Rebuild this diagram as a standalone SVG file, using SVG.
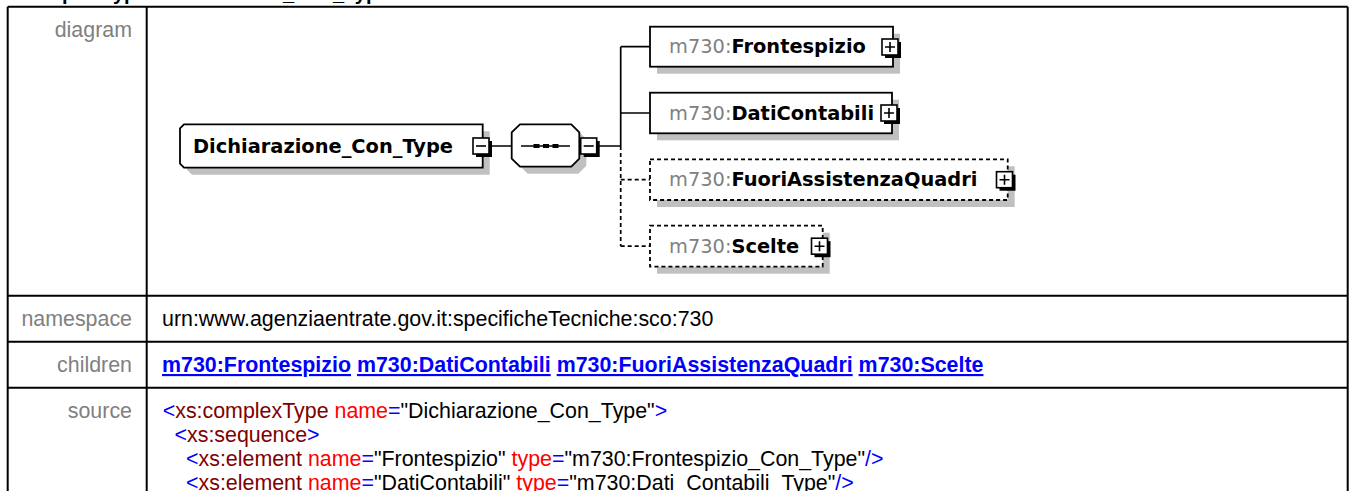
<svg xmlns="http://www.w3.org/2000/svg" xmlns:xlink="http://www.w3.org/1999/xlink" width="1349" height="491" viewBox="0 0 1349 491">
<style>
.tbl{fill:none;stroke:#000;stroke-width:2}
.lbl{font-family:"Liberation Sans",Arial,sans-serif;font-size:21.4px;fill:#808080;text-anchor:end}
.val{font-family:"Liberation Sans",Arial,sans-serif;font-size:21.4px;fill:#000}
.hdr{font-family:"Liberation Sans",Arial,sans-serif;font-size:20px;font-weight:bold;fill:#000}
.lnk{fill:#0000ff;font-weight:bold;text-decoration:underline}
.b{fill:#0000ff}.m{fill:#800000}.r{fill:#ff0000}.k{fill:#000}
.node{fill:#fff;stroke:#000;stroke-width:1.8}
.opt{stroke-dasharray:4 3}
.shadow{fill:#c0c0c0}
.ntxt{font-family:"DejaVu Sans",Verdana,sans-serif;font-size:19.4px}
.ns{fill:#808080}
.nm{font-weight:bold;fill:#000}
.conn{stroke:#000;stroke-width:1.7;fill:none}
.btn{fill:#fff;stroke:#000;stroke-width:1.6}
.sign{stroke:#000;stroke-width:1.6;fill:none}
</style>
<defs>
<g id="plusBtn"><rect x="-5" y="-5" width="16" height="16" fill="#000"/><rect x="-8" y="-8" width="16" height="16" class="btn"/><path class="sign" d="M-5 0H5M0 -5V5"/></g>
<g id="minusBtn"><rect x="-5" y="-5" width="16" height="16" fill="#000"/><rect x="-8" y="-8" width="16" height="16" class="btn"/><path class="sign" d="M-5 0H5"/></g>
</defs>
<rect width="1349" height="491" fill="#fff"/>
<text class="hdr" x="21" y="0">complexType Dichiarazione_Con_Type</text>
<g id="table">
<path class="tbl" d="M7.7 6.7H1347.7M7.7 6.7V491M1347.7 6.7V491M146.7 6.7V491M7.7 295.7H1347.7M7.7 341.7H1347.7M7.7 387.7H1347.7"/>
<text class="lbl" x="132" y="37">diagram</text>
<text class="lbl" x="132" y="326">namespace</text>
<text class="val" x="162" y="326">urn:www.agenziaentrate.gov.it:specificheTecniche:sco:730</text>
<text class="lbl" x="132" y="372">children</text>
<text class="val" x="162" y="372"><tspan class="lnk">m730:Frontespizio</tspan> <tspan class="lnk">m730:DatiContabili</tspan> <tspan class="lnk">m730:FuoriAssistenzaQuadri</tspan> <tspan class="lnk">m730:Scelte</tspan></text>
<text class="lbl" x="132" y="418">source</text>
<text class="val" x="162.7" y="418"><tspan class="b">&lt;</tspan><tspan class="m">xs:complexType</tspan> <tspan class="r">name</tspan><tspan class="b">=</tspan><tspan class="k">"Dichiarazione_Con_Type"</tspan><tspan class="b">&gt;</tspan></text>
<text class="val" x="174.5" y="442"><tspan class="b">&lt;</tspan><tspan class="m">xs:sequence</tspan><tspan class="b">&gt;</tspan></text>
<text class="val" x="186" y="466"><tspan class="b">&lt;</tspan><tspan class="m">xs:element</tspan> <tspan class="r">name</tspan><tspan class="b">=</tspan><tspan class="k">"Frontespizio"</tspan> <tspan class="r">type</tspan><tspan class="b">=</tspan><tspan class="k">"m730:Frontespizio_Con_Type"</tspan><tspan class="b">/&gt;</tspan></text>
<text class="val" x="186" y="490"><tspan class="b">&lt;</tspan><tspan class="m">xs:element</tspan> <tspan class="r">name</tspan><tspan class="b">=</tspan><tspan class="k">"DatiContabili"</tspan> <tspan class="r">type</tspan><tspan class="b">=</tspan><tspan class="k">"m730:Dati_Contabili_Type"</tspan><tspan class="b">/&gt;</tspan></text>
</g>
<g id="connectors">
<path class="conn" d="M489 146H511.7M597 146H620.7M620.7 46.7V146M620.7 46.7H650M620.7 113H650"/>
<path class="conn opt" d="M620.7 146V246.2M620.7 179.7H650M620.7 246.2H650"/>
</g>
<g id="root">
<polygon class="shadow" points="191,131.3 489.7,131.3 489.7,174.7 192,174.7 187,169.7 187,136.3"/>
<polygon class="node" points="184,124.3 482.7,124.3 482.7,167.7 184,167.7 180,163.7 180,128.3"/>
<text class="ntxt nm" x="193" y="152.7">Dichiarazione_Con_Type</text>
<use xlink:href="#minusBtn" x="481" y="146"/>
</g>
<g id="sequence">
<polygon class="shadow" points="527.7,131.3 578.3,131.3 586.3,139.3 586.3,165.7 578.3,173.7 527.7,173.7 519.7,165.7 519.7,139.3"/>
<polygon class="node" points="520,124.3 571.3,124.3 579.3,132.3 579.3,158.7 571.3,166.7 520,166.7 511.7,158.7 511.7,132.3"/>
<path class="conn" d="M521 146H570"/>
<rect x="533.5" y="144" width="6" height="4" fill="#000"/>
<rect x="543" y="144" width="6" height="4" fill="#000"/>
<rect x="552.5" y="144" width="6" height="4" fill="#000"/>
<use xlink:href="#minusBtn" x="588.7" y="146"/>
</g>
<g id="frontespizio">
<rect class="shadow" x="657" y="33.7" width="243" height="40"/>
<rect class="node" x="650" y="26.7" width="243" height="40"/>
<text class="ntxt" x="669" y="53.4"><tspan class="ns">m730:</tspan><tspan class="nm">Frontespizio</tspan></text>
<use xlink:href="#plusBtn" x="890" y="47"/>
</g>
<g id="daticontabili">
<rect class="shadow" x="657" y="99.7" width="242" height="40.6"/>
<rect class="node" x="650" y="92.7" width="242" height="40.6"/>
<text class="ntxt" x="669" y="119.7"><tspan class="ns">m730:</tspan><tspan class="nm">DatiContabili</tspan></text>
<use xlink:href="#plusBtn" x="889" y="113"/>
</g>
<g id="fuoriassistenzaquadri">
<rect class="shadow" x="657" y="166.3" width="357.7" height="40.7"/>
<rect class="node opt" x="650" y="159.3" width="357.7" height="40.7"/>
<text class="ntxt" x="669" y="186.4"><tspan class="ns">m730:</tspan><tspan class="nm">FuoriAssistenzaQuadri</tspan></text>
<use xlink:href="#plusBtn" x="1004.5" y="179.7"/>
</g>
<g id="scelte">
<rect class="shadow" x="657" y="232.7" width="172.7" height="41"/>
<rect class="node opt" x="650" y="225.7" width="172.7" height="41"/>
<text class="ntxt" x="669" y="252.9"><tspan class="ns">m730:</tspan><tspan class="nm">Scelte</tspan></text>
<use xlink:href="#plusBtn" x="819.5" y="246.2"/>
</g>
</svg>
